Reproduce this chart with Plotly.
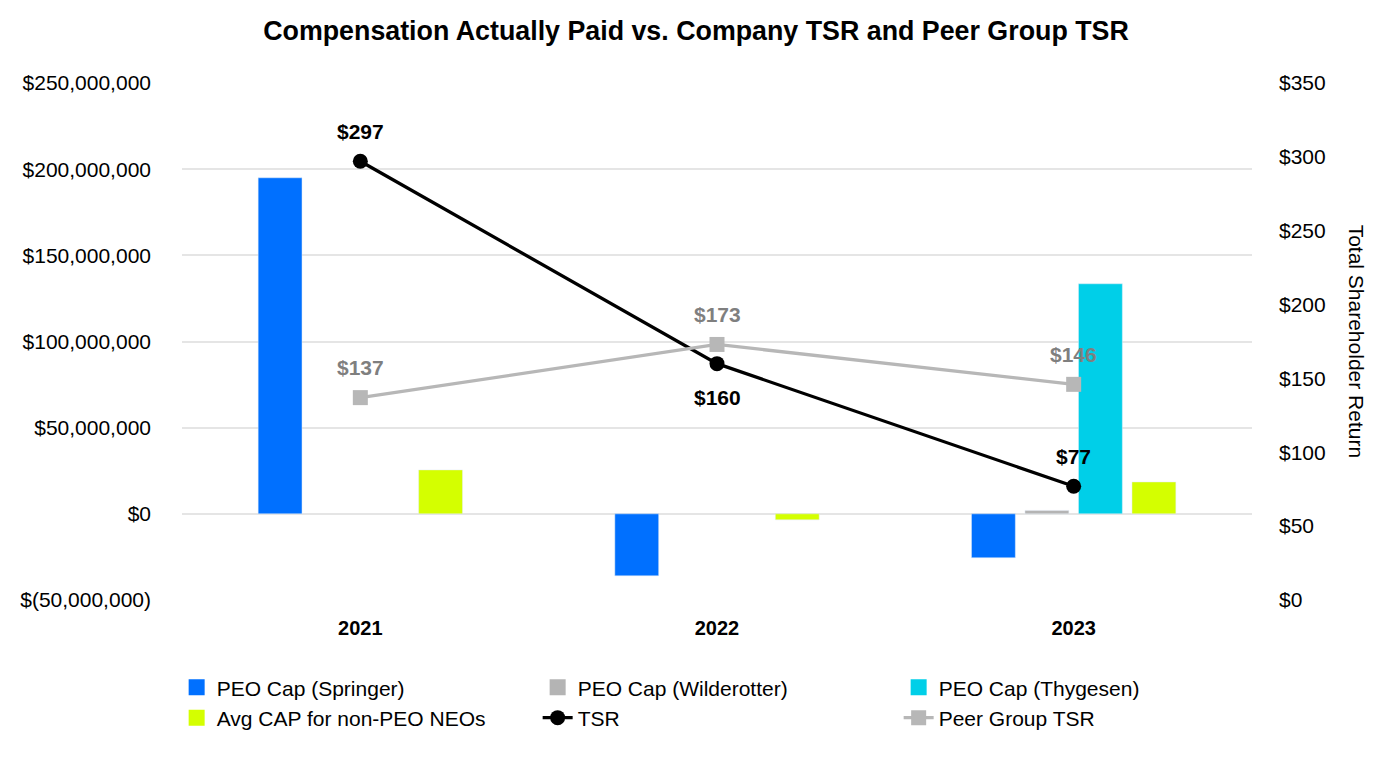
import plotly.graph_objects as go

years = ["2021", "2022", "2023"]
peo_springer = [195e6, -36e6, -25.5e6]
peo_wilderotter = [None, None, 2e6]
peo_thygesen = [None, None, 133.5e6]
avg_cap_neos = [25.5e6, -3.5e6, 18.5e6]
tsr = [297, 160, 77]
peer_tsr = [137, 173, 146]
tsr_label_pos = ["above", "below", "above"]

bar_names = ["PEO Cap (Springer)", "PEO Cap (Wilderotter)", "PEO Cap (Thygesen)", "Avg CAP for non-PEO NEOs"]
bar_colors = ["#0070FF", "#B4B4B4", "#00CFE8", "#D4FF00"]
bar_values = [peo_springer, peo_wilderotter, peo_thygesen, avg_cap_neos]

left_tickvals = [-50e6, 0, 50e6, 100e6, 150e6, 200e6, 250e6]
left_ticktext = ["$(50,000,000)", "$0", "$50,000,000", "$100,000,000",
                 "$150,000,000", "$200,000,000", "$250,000,000"]
right_tickvals = [0, 50, 100, 150, 200, 250, 300, 350]
right_ticktext = ["$" + str(v) for v in right_tickvals]

FONT = "Liberation Sans, Arial, Helvetica, sans-serif"

fig = go.Figure()
for name, color, vals in zip(bar_names, bar_colors, bar_values):
    fig.add_trace(go.Bar(x=years, y=vals, name=name, marker_color=color, showlegend=False))
# legend entries for the bars (larger square symbols)
for rank, (name, color) in enumerate(zip(bar_names, bar_colors)):
    fig.add_trace(go.Scatter(x=[None], y=[None], mode="markers", name=name,
                             marker=dict(symbol="square", size=20, color=color),
                             legendrank=rank + 1))
fig.add_trace(go.Scatter(x=years, y=tsr, name="TSR", yaxis="y2", mode="lines+markers",
                         line=dict(color="black", width=3.3),
                         marker=dict(color="black", size=15, symbol="circle"),
                         legendrank=5))
fig.add_trace(go.Scatter(x=years, y=peer_tsr, name="Peer Group TSR", yaxis="y2", mode="lines+markers",
                         line=dict(color="#B7B7B7", width=3.3),
                         marker=dict(color="#B7B7B7", size=15, symbol="square"),
                         legendrank=6))

annotations = []
for i, (v, pos) in enumerate(zip(tsr, tsr_label_pos)):
    annotations.append(dict(x=i, y=v, xref="x", yref="y2", text="$" + str(v), showarrow=False,
                            yshift=30 if pos == "above" else -34,
                            font=dict(family=FONT, size=21, color="black", weight="bold")))
for i, v in enumerate(peer_tsr):
    annotations.append(dict(x=i, y=v, xref="x", yref="y2", text="$" + str(v), showarrow=False,
                            yshift=30,
                            font=dict(family=FONT, size=21, color="#7F7F7F", weight="bold")))
annotations.append(dict(x=1.098, y=0.5, xref="paper", yref="paper", xanchor="center", yanchor="middle",
                        text="Total Shareholder Return",
                        showarrow=False, textangle=90,
                        font=dict(family=FONT, size=21, color="black")))

fig.update_layout(
    width=1392, height=760,
    margin=dict(l=182, r=140, t=83, b=160),
    paper_bgcolor="white", plot_bgcolor="white",
    font=dict(family=FONT, size=21, color="black"),
    title=dict(text="<b>Compensation Actually Paid vs. Company TSR and Peer Group TSR</b>",
               x=0.5, xanchor="center", y=1 - 31 / 760, yanchor="middle",
               font=dict(family=FONT, size=26.8, color="black")),
    barmode="group", bargap=0.4, bargroupgap=0.18,
    xaxis=dict(type="category", categoryorder="array", categoryarray=years,
               range=[-0.5, len(years) - 0.5], autorange=False,
               showgrid=False, showline=False, ticks="",
               tickfont=dict(family=FONT, size=20, color="black", weight="bold"),
               ticklabelstandoff=14),
    yaxis=dict(range=[-50e6, 250e6], tickvals=left_tickvals, ticktext=left_ticktext,
               showgrid=True, gridcolor="#E5E5E5", gridwidth=1.5,
               zeroline=True, zerolinecolor="#E5E5E5", zerolinewidth=1.5,
               showline=False, ticks="", ticklabelstandoff=30,
               tickfont=dict(family=FONT, size=21, color="black")),
    yaxis2=dict(range=[0, 350], tickvals=right_tickvals, ticktext=right_ticktext,
                overlaying="y", side="right", showgrid=False, zeroline=False,
                showline=False, ticks="", ticklabelstandoff=26,
                tickfont=dict(family=FONT, size=21, color="black")),
    legend=dict(orientation="h", x=-0.005, xanchor="left", y=-0.13, yanchor="top",
                entrywidth=316, entrywidthmode="pixels", traceorder="normal",
                font=dict(family=FONT, size=21, color="black"), itemsizing="trace",
                tracegroupgap=0),
    annotations=annotations,
    showlegend=True,
)

fig.write_html("out.html")
